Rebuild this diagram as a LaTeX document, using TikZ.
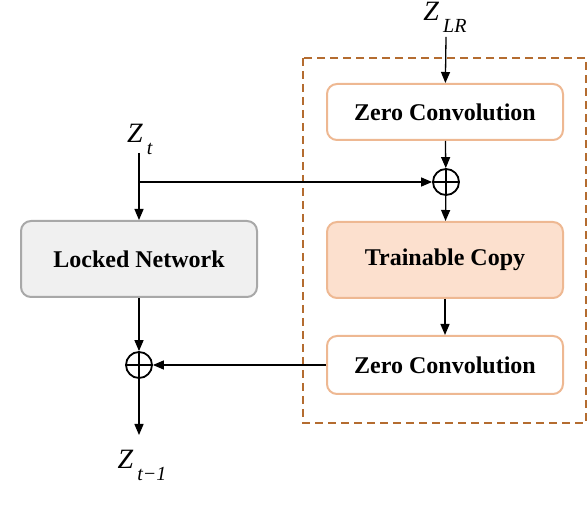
\documentclass[tikz,border=0pt,12pt]{standalone}
\usepackage{fontspec}
\setmainfont{Liberation Serif}
\usetikzlibrary{arrows.meta}

\definecolor{convline}{RGB}{238,184,146}
\definecolor{copyfill}{RGB}{252,224,206}
\definecolor{lockfill}{RGB}{240,240,240}
\definecolor{lockline}{RGB}{168,168,168}
\definecolor{ctrlline}{RGB}{180,108,48}

\newcommand{\zvar}[1]{{\fontsize{14}{16}\selectfont\textit{Z}}\raisebox{-0.5em}{\,\footnotesize\textit{#1}}}

\tikzset{
  block/.style={rounded corners=5pt, line width=1pt, minimum width=118pt,
    font=\bfseries, align=center},
  arr/.style={line width=0.65pt, -{Triangle[width=4.5pt,length=5.5pt]}},
  addop/.style={circle, draw, line width=0.9pt, minimum size=13pt, inner sep=0pt,
    path picture={\draw[line width=0.6pt]
      (path picture bounding box.north) -- (path picture bounding box.south)
      (path picture bounding box.west) -- (path picture bounding box.east);}},
}

\begin{document}
\begin{tikzpicture}[x=0.5pt, y=-0.5pt]
        \useasboundingbox (0,0) rectangle (588,512);
        % control branch
        \path[draw, ctrlline, dashed, line width=1.1pt, dash pattern=on 4pt off 2.5pt](303,58)rectangle(586,423);
        \node[block, draw=convline, fill=white, minimum height=28pt](zc1)at(445,112){Zero Convolution};
        \node[addop](add1)at(446,182){};
        \node[block, draw=convline, fill=copyfill, minimum height=38pt](train)at(445,260){Trainable Copy};
        \node[block, draw=convline, fill=white, minimum height=29pt](zc2)at(445,365){Zero Convolution};
        % locked branch
        \node[block, draw=lockline, fill=lockfill, minimum height=38pt](locked)at(139,259){Locked Network};
        \node[addop](add2)at(139,365){};
        % inputs and output
        \node(zt)at(140,139){\zvar{t}};
        \node(zlr)at(445,17){\zvar{LR}};
        \node(zout)at(142,465){\zvar{t−1}};
        \coordinate(ztin)at(139,153);
        \coordinate(zlrin)at(446,37);
        \coordinate(zend)at(139,435);
        \coordinate(fork)at(139,182);
        % arrows
        \path[draw, arr](zlrin)to(zc1);
        \path[draw, arr](zc1)to(add1);
        \path[draw, arr](add1)to(train);
        \path[draw, arr](train)to(zc2);
        \path[draw, arr](ztin)to(locked);
        \path[draw, arr](fork)to(add1);
        \path[draw, arr](locked)to(add2);
        \path[draw, arr](zc2)to(add2);
        \path[draw, arr](add2)to(zend);
    \end{tikzpicture}
\end{document}
